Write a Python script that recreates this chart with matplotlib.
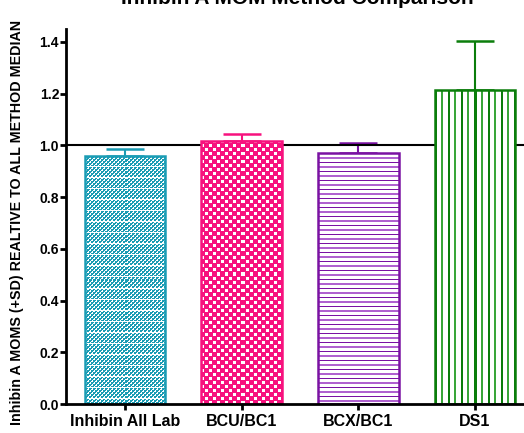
import numpy as np
import matplotlib
matplotlib.use("Agg")
import matplotlib.pyplot as plt

plt.rcParams['font.family'] = ['Liberation Sans', 'DejaVu Sans']
plt.rcParams['font.weight'] = 'bold'

# data
methods = ['Inhibin All Lab', 'BCU/BC1', 'BCX/BC1', 'DS1']
mom_means = [0.959, 1.017, 0.970, 1.214]
mom_sd = [0.027, 0.028, 0.040, 0.190]
colors = ['#1a9cb4', '#f7127e', '#7a12a3', '#0b7d0b']
light = ['#1a9cb4', '#f7127e', '#b062d0', '#3aa63a']
yticks = [0.0, 0.2, 0.4, 0.6, 0.8, 1.0, 1.2, 1.4]


def texture(kind, h, w, c1, c2):
    # pixel pattern used to fill a bar (GraphPad style fills)
    i, j = np.mgrid[0:h, 0:w]
    img = np.ones((h, w, 3))
    a = np.array(matplotlib.colors.to_rgb(c1))
    b = np.array(matplotlib.colors.to_rgb(c2))
    if kind == 'fine':
        m = ((i // 2 + j // 2) % 2 == 0) | ((i % 2 == 0) & (j % 2 == 0))
        m &= (i % 11 != 0)
        img[m] = a
    elif kind == 'check':
        m = ~(((i // 4 + j // 4) % 2 == 1) & (i % 4 < 3) & (j % 4 < 3))
        img[m] = a
    elif kind == 'hline':
        img[i % 9 == 0] = a
        img[(i % 9 >= 4) & (i % 9 < 6)] = b
    elif kind == 'vline':
        img[(j % 13) < 2] = a
        img[(j % 13 >= 6) & (j % 13 < 8)] = b
    return img


kinds = ['fine', 'check', 'hline', 'vline']

fig = plt.figure(figsize=(5.24, 4.33), dpi=100)
ax = fig.add_axes([66 / 524, (433 - 404) / 433, 1 - 66 / 524 + 0.02, (404 - 29) / 433])
ax.set_xlim(-0.506, 3.51)
ax.set_ylim(0, 1.45)

x = np.arange(len(methods))
bw = 0.69
bars = ax.bar(x, mom_means, width=bw, facecolor='white', zorder=2)
for k, b in enumerate(bars):
    b.set_edgecolor(colors[k])
    b.set_linewidth(1.8)
    b.set_facecolor('none')
    x0, x1 = x[k] - bw / 2, x[k] + bw / 2
    p0 = ax.transData.transform((x0, 0))
    p1 = ax.transData.transform((x1, mom_means[k]))
    w = int(round(abs(p1[0] - p0[0])))
    h = int(round(abs(p1[1] - p0[1])))
    im = ax.imshow(texture(kinds[k], h, w, colors[k], light[k]), extent=(x0, x1, 0, mom_means[k]),
                   aspect='auto', interpolation='none', origin='upper', zorder=1.9)
    im.set_clip_path(b)

for k in range(len(methods)):
    ax.errorbar(x[k], mom_means[k], yerr=[[0], [mom_sd[k]]], color=colors[k],
                capsize=14, elinewidth=1.5, capthick=1.8, fmt='none', zorder=1)

ax.axhline(1.0, color='black', lw=1.5, zorder=1.5)

ax.set_xlim(-0.506, 3.51)
ax.set_ylim(0, 1.45)
ax.set_yticks(yticks)
ax.set_yticklabels(['%.1f' % t for t in yticks], fontsize=10, fontweight='bold')
ax.set_xticks(x)
ax.set_xticklabels(methods, fontsize=11.5, fontweight='bold')

for s in ['top', 'right']:
    ax.spines[s].set_visible(False)
for s in ['left', 'bottom']:
    ax.spines[s].set_linewidth(2)
ax.tick_params(direction='out', length=4, width=2, pad=1)
ax.tick_params(axis='x', pad=3)

fig.text(297 / 524, 1 - 4 / 433, 'Inhibin A MOM Method Comparison', ha='center',
         va='baseline', fontsize=15, fontweight='bold')
fig.text(17 / 524, 1 - 222 / 433, 'Inhibin A MOMS (+SD) REALTIVE TO ALL METHOD MEDIAN',
         rotation=90, ha='center', va='center', fontsize=10.3, fontweight='bold')

fig.savefig('out.png', dpi=100)
